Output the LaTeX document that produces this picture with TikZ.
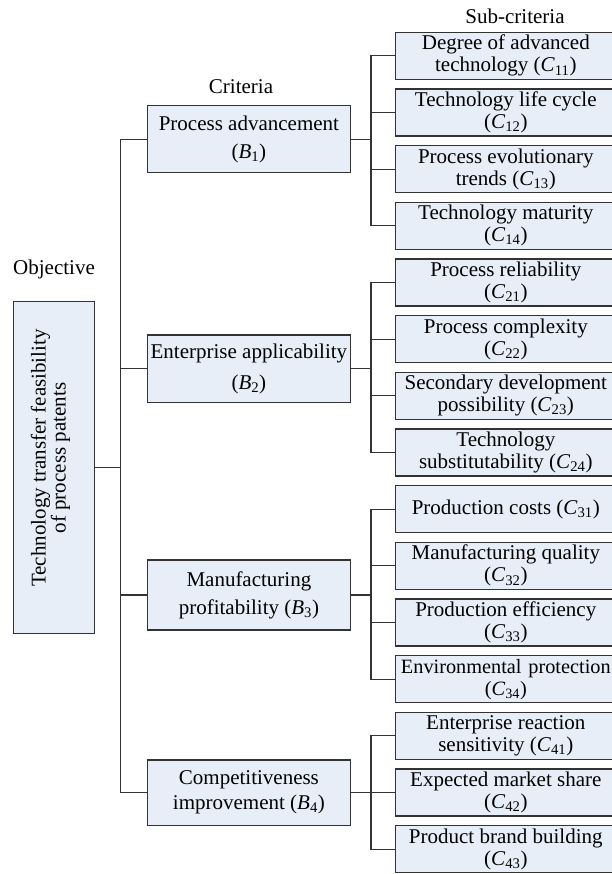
\documentclass[tikz,border=0pt]{standalone}
\usepackage{fontspec}
\setmainfont{Liberation Serif}
\definecolor{boxfill}{HTML}{E8EEF7}
\definecolor{linec}{HTML}{333333}
\newcommand\critlab[2]{(\textit{#1}\textsubscript{#2})}
\tikzset{
  box/.style={draw=linec, fill=boxfill, line width=1.1pt, inner sep=0pt, align=center,
    font=\fontsize{21}{22}\selectfont},
  cbox/.style={box, minimum width=220.4pt, minimum height=47pt},
  bbox/.style={box, minimum width=202.3pt, font=\fontsize{21}{28}\selectfont},
  conn/.style={draw=linec, line width=1.1pt},
  lbl/.style={font=\fontsize{21}{24}\selectfont, inner sep=0pt}
}
\begin{document}
\begin{tikzpicture}[x=1pt,y=-1pt]
\useasboundingbox (0,0) rectangle (611,874);
% labels
\node[lbl] (lsub) at (515,16) {Sub-criteria};
\node[lbl] (lcrit) at (241,87) {Criteria};
\node[lbl] (lobj) at (54,269) {Objective};
% objective
\node[box, minimum width=80.7pt, minimum height=332pt] (obj) at (54,467.8) {};
\node[lbl, rotate=90, align=center, font=\fontsize{21}{20}\selectfont] (objt) at (50.5,458)
  {Technology transfer feasibility\\of process patents};
% criteria
\node[bbox, minimum height=66.7pt] (B1) at (248.9,139.3) {Process advancement\\\critlab{B}{1}};
\node[bbox, minimum height=67.7pt, font=\fontsize{21}{31}\selectfont] (B2) at (248.9,368.8) {Enterprise applicability\\\critlab{B}{2}};
\node[bbox, minimum height=70pt] (B3) at (248.9,595) {Manufacturing\\profitability \critlab{B}{3}};
\node[bbox, minimum height=65.3pt, font=\fontsize{21}{25}\selectfont] (B4) at (248.9,792.6) {Competitiveness\\improvement \critlab{B}{4}};
% sub-criteria
\node[cbox] (C11) at (505.8,55.8) {Degree of advanced\\technology \critlab{C}{11}};
\node[cbox] (C12) at (505.8,112.5) {Technology life cycle\\\critlab{C}{12}};
\node[cbox] (C13) at (505.8,169.1) {Process evolutionary\\trends \critlab{C}{13}};
\node[cbox] (C14) at (505.8,225.8) {Technology maturity\\\critlab{C}{14}};
\node[cbox] (C21) at (505.8,282.5) {Process reliability\\\critlab{C}{21}};
\node[cbox] (C22) at (505.8,339.1) {Process complexity\\\critlab{C}{22}};
\node[cbox] (C23) at (505.8,395.8) {Secondary development\\possibility \critlab{C}{23}};
\node[cbox] (C24) at (505.8,452.5) {Technology\\substitutability \critlab{C}{24}};
\node[cbox] (C31) at (505.8,509.2) {Production costs \critlab{C}{31}};
\node[cbox] (C32) at (505.8,565.8) {Manufacturing quality\\\critlab{C}{32}};
\node[cbox] (C33) at (505.8,622.5) {Production efficiency\\\critlab{C}{33}};
\node[cbox, font=\fontsize{20.3}{22}\selectfont, text width=212pt] (C34) at (505.8,679.2) {Environmental protection\\\critlab{C}{34}};
\node[cbox] (C41) at (505.8,735.8) {Enterprise reaction\\sensitivity \critlab{C}{41}};
\node[cbox] (C42) at (505.8,792.5) {Expected market share\\\critlab{C}{42}};
\node[cbox] (C43) at (505.8,849.2) {Product brand building\\\critlab{C}{43}};
% trunk
\coordinate (tx) at (120.8,0);
\coordinate (bx) at (371,0);
\draw[conn] (B1.west) -- (B1.west -| tx) -- (B4.west -| tx) -- (B4.west);
\draw[conn] (B2.west) -- (B2.west -| tx);
\draw[conn] (B3.west) -- (B3.west -| tx);
\draw[conn] (obj.east) -- (obj.east -| tx);
% groups
\draw[conn] (C11.west) -- (C11.west -| bx) -- (C14.west -| bx) -- (C14.west);
\draw[conn] (C12.west) -- (C12.west -| bx);
\draw[conn] (C13.west) -- (C13.west -| bx);
\draw[conn] (B1.east) -- (B1.east -| bx);
\draw[conn] (C21.west) -- (C21.west -| bx) -- (C24.west -| bx) -- (C24.west);
\draw[conn] (C22.west) -- (C22.west -| bx);
\draw[conn] (C23.west) -- (C23.west -| bx);
\draw[conn] (B2.east) -- (B2.east -| bx);
\draw[conn] (C31.west) -- (C31.west -| bx) -- (C34.west -| bx) -- (C34.west);
\draw[conn] (C32.west) -- (C32.west -| bx);
\draw[conn] (C33.west) -- (C33.west -| bx);
\draw[conn] (B3.east) -- (B3.east -| bx);
\draw[conn] (C41.west) -- (C41.west -| bx) -- (C43.west -| bx) -- (C43.west);
\draw[conn] (C42.west) -- (C42.west -| bx);
\draw[conn] (B4.east) -- (B4.east -| bx);
\end{tikzpicture}
\end{document}
